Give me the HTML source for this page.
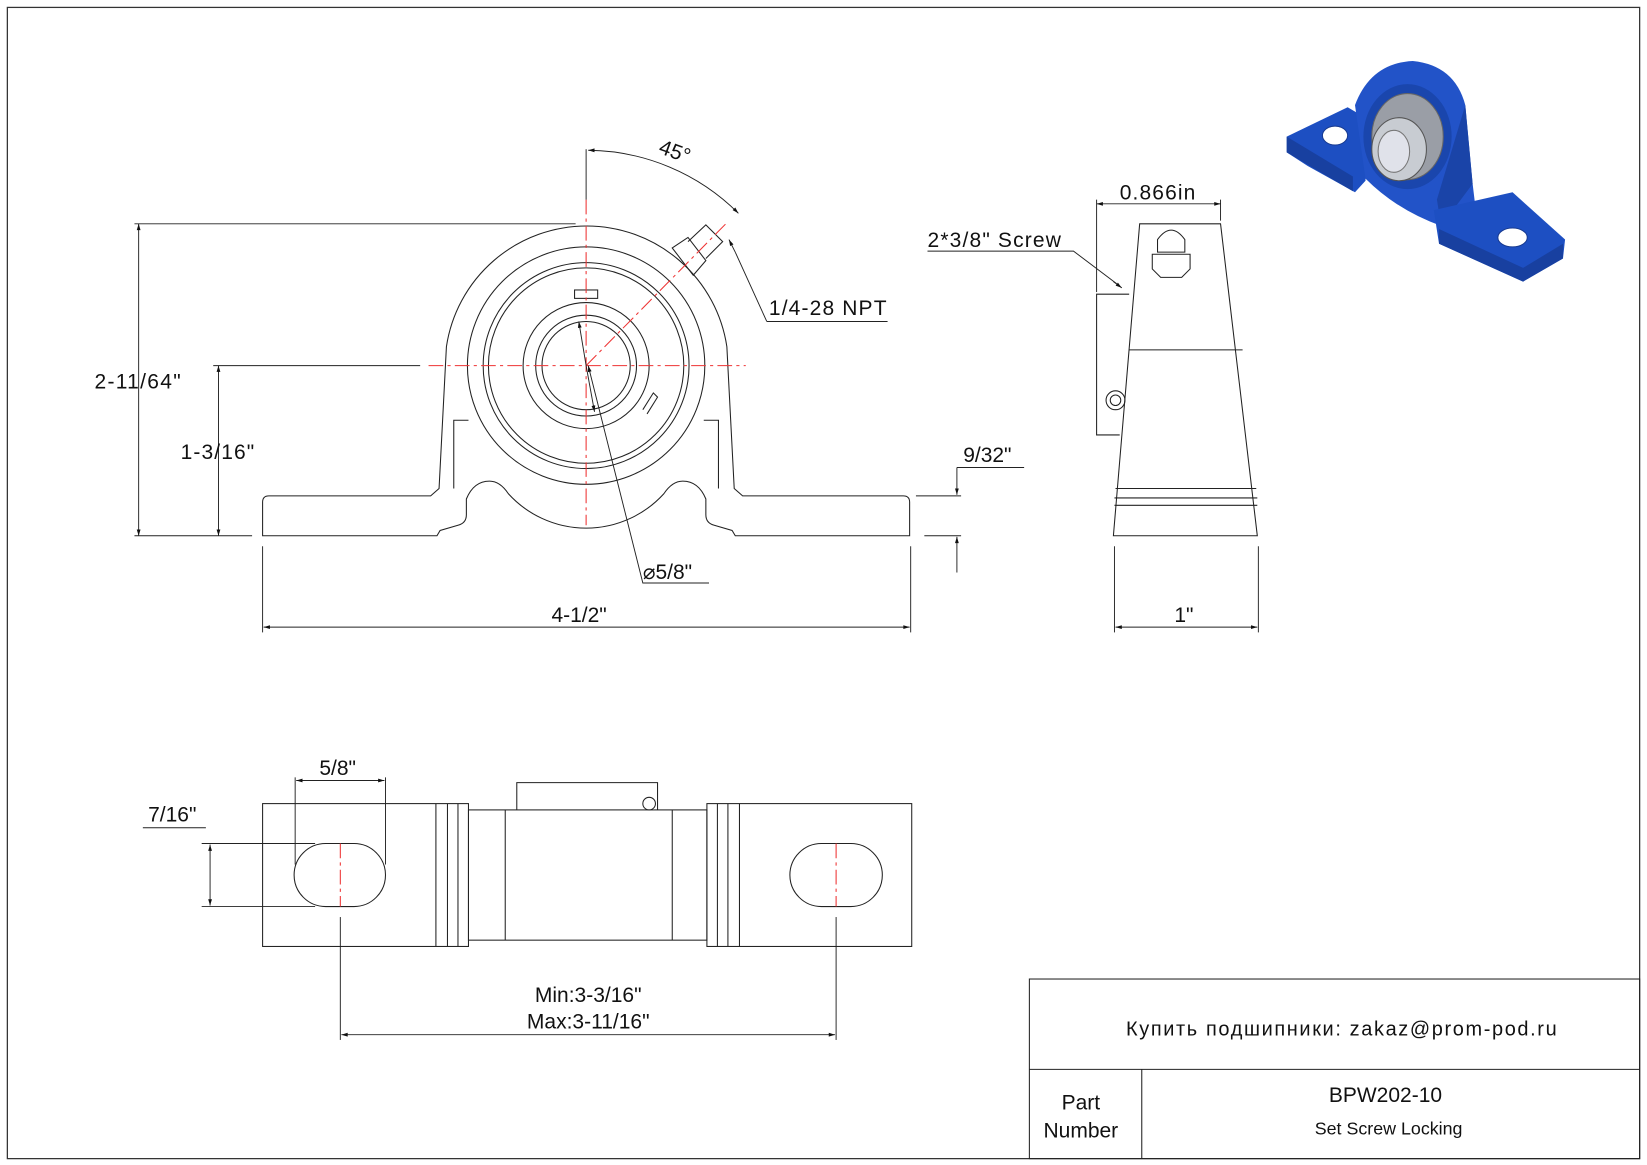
<!DOCTYPE html>
<html><head><meta charset="utf-8"><style>
html,body{margin:0;padding:0;background:#fff}
svg{display:block}
text{font-family:"Liberation Sans","Noto Sans CJK SC",sans-serif;fill:#111}
</style></head><body>
<svg width="1647" height="1165" viewBox="0 0 1568 1109" xmlns="http://www.w3.org/2000/svg">
<defs>
<marker id="a" viewBox="0 0 10 10" refX="10" refY="5" markerWidth="10" markerHeight="6" orient="auto-start-reverse" markerUnits="userSpaceOnUse"><path d="M0,2 L10,5 L0,8 z" fill="#111"/></marker>
</defs>
<rect x="7" y="7" width="1554" height="1096" fill="none" stroke="#333" stroke-width="1.2"/>
<g fill="none" stroke="#222" stroke-width="1">
<path d="M250,478 Q250,472 256,472 L410,472 L418,465 L425,330 A135,135 0 0 1 692,330 L699,465 L707,472 L860,472 Q866,472 866,478 L866,510 L700,510 L697,505 L680,500 Q672,498 672,490 L672,475 Q665,458 650,458 Q640,458 632,470 A100,100 0 0 1 484,470 Q476,458 466,458 Q451,458 444,475 L444,490 Q444,498 436,500 L419,505 L416,510 L250,510 Z"/>
<path d="M432,465 L432,400 L446,400"/><path d="M684,465 L684,400 L670,400"/>
<circle cx="558" cy="348" r="113"/><circle cx="558" cy="348" r="98"/><circle cx="558" cy="348" r="93"/>
<circle cx="558" cy="348" r="60"/><circle cx="558" cy="348" r="48"/><circle cx="558" cy="348" r="42"/>
<rect x="547" y="276" width="22" height="8"/>
<path d="M612,390 L622,374 L626,378 L616,394"/>
<path d="M640,236 L655,226 L672,248 L660,262 Z"/><path d="M655,230 L672,214 L688,230 L672,246"/>
<path d="M1085,213 L1162,213 L1197,510 L1060,510 Z"/>
<line x1="1075" y1="333" x2="1183" y2="333"/><line x1="1062" y1="465" x2="1196" y2="465"/>
<line x1="1061" y1="474" x2="1197" y2="474"/><line x1="1061" y1="481" x2="1197" y2="481"/>
<path d="M1075,280 L1044,280 L1044,414 L1066,414"/>
<circle cx="1062" cy="381" r="9"/><circle cx="1062" cy="381" r="5"/>
<path d="M1102,240 L1102,228 Q1115,210 1128,228 L1128,240 Z"/>
<path d="M1097,242 L1133,242 L1133,256 L1125,264 L1105,264 L1097,256 Z"/>
<rect x="250" y="765" width="196" height="136"/><rect x="673" y="765" width="195" height="136"/>
<line x1="415" y1="765" x2="415" y2="901"/><line x1="426" y1="765" x2="426" y2="901"/><line x1="436" y1="765" x2="436" y2="901"/>
<line x1="683" y1="765" x2="683" y2="901"/><line x1="693" y1="765" x2="693" y2="901"/><line x1="704" y1="765" x2="704" y2="901"/>
<rect x="446" y="771" width="227" height="124"/><line x1="481" y1="771" x2="481" y2="895"/><line x1="640" y1="771" x2="640" y2="895"/>
<path d="M492,771 L492,745 L626,745 L626,771"/><circle cx="618" cy="765" r="6"/>
<path d="M310,803 L337,803 A30,30 0 0 1 337,863 L310,863 A30,30 0 0 1 310,803 Z"/>
<path d="M782,803 L810,803 A30,30 0 0 1 810,863 L782,863 A30,30 0 0 1 782,803 Z"/>
<rect x="980" y="932" width="581" height="171"/><line x1="980" y1="1018" x2="1561" y2="1018"/><line x1="1087" y1="1018" x2="1087" y2="1103"/>
</g>
<g stroke="#e33" stroke-width="1" stroke-dasharray="14,4,3,4" fill="none">
<line x1="558" y1="190" x2="558" y2="500"/><line x1="408" y1="348" x2="710" y2="348"/>
<line x1="558" y1="348" x2="692" y2="212"/>
<line x1="324" y1="803" x2="324" y2="863"/><line x1="796" y1="803" x2="796" y2="863"/>
</g>
<g stroke="#222" stroke-width="0.9" fill="none">
<line x1="558" y1="142" x2="558" y2="190"/>
<path d="M560,143 A205,205 0 0 1 703,203" marker-start="url(#a)" marker-end="url(#a)"/>
<line x1="128" y1="213" x2="548" y2="213"/><line x1="128" y1="510" x2="240" y2="510"/>
<line x1="132" y1="213" x2="132" y2="510" marker-start="url(#a)" marker-end="url(#a)"/>
<line x1="203" y1="348" x2="400" y2="348"/>
<line x1="208" y1="348" x2="208" y2="510" marker-start="url(#a)" marker-end="url(#a)"/>
<line x1="250" y1="520" x2="250" y2="602"/><line x1="867" y1="520" x2="867" y2="602"/>
<line x1="251" y1="597" x2="866" y2="597" marker-start="url(#a)" marker-end="url(#a)"/>
<line x1="872" y1="472" x2="915" y2="472"/><line x1="880" y1="510" x2="915" y2="510"/>
<line x1="911" y1="445" x2="911" y2="471" marker-end="url(#a)"/><line x1="911" y1="545" x2="911" y2="511" marker-end="url(#a)"/>
<line x1="911" y1="445" x2="975" y2="445"/>
<path d="M730,306 L845,306 M730,306 L700,240" /><line x1="700" y1="240" x2="694" y2="228" marker-end="url(#a)"/>
<path d="M675,555 L612,555 L562,356"/><line x1="562" y1="356" x2="560" y2="348" marker-end="url(#a)"/>
<line x1="558" y1="348" x2="551" y2="306" marker-end="url(#a)"/>
<line x1="558" y1="348" x2="566" y2="392" marker-end="url(#a)"/>
<line x1="1044" y1="190" x2="1044" y2="278"/><line x1="1162" y1="190" x2="1162" y2="210"/>
<line x1="1044" y1="194" x2="1162" y2="194" marker-start="url(#a)" marker-end="url(#a)"/>
<path d="M883,239 L1022,239 L1063,270"/><line x1="1060" y1="268" x2="1068" y2="274" marker-end="url(#a)"/>
<line x1="1061" y1="520" x2="1061" y2="602"/><line x1="1198" y1="520" x2="1198" y2="602"/>
<line x1="1062" y1="597" x2="1197" y2="597" marker-start="url(#a)" marker-end="url(#a)"/>
<line x1="281" y1="740" x2="281" y2="823"/><line x1="367" y1="740" x2="367" y2="823"/>
<line x1="282" y1="743" x2="366" y2="743" marker-start="url(#a)" marker-end="url(#a)"/>
<line x1="136" y1="788" x2="196" y2="788"/><line x1="192" y1="803" x2="300" y2="803"/><line x1="192" y1="863" x2="300" y2="863"/>
<line x1="200" y1="804" x2="200" y2="862" marker-start="url(#a)" marker-end="url(#a)"/>
<line x1="324" y1="873" x2="324" y2="990"/><line x1="796" y1="873" x2="796" y2="990"/>
<line x1="325" y1="985" x2="795" y2="985" marker-start="url(#a)" marker-end="url(#a)"/>
</g>
<g font-size="20">
<text x="627" y="150" transform="rotate(20 640 145)">45°</text>
<text x="90" y="370" textLength="82">2-11/64"</text>
<text x="172" y="437" textLength="70">1-3/16"</text>
<text x="732" y="300" textLength="112">1/4-28 NPT</text>
<text x="917" y="440">9/32"</text>
<text x="612" y="551">⌀5/8"</text>
<text x="525" y="592">4-1/2"</text>
<text x="1066" y="190" textLength="72">0.866in</text>
<text x="883" y="235" textLength="127">2*3/8" Screw</text>
<text x="1118" y="592">1"</text>
<text x="304" y="738">5/8"</text>
<text x="141" y="782">7/16"</text>
<text x="560" y="954" text-anchor="middle">Min:3-3/16"</text>
<text x="560" y="979" text-anchor="middle">Max:3-11/16"</text>
<text x="1072" y="986" font-size="19" textLength="410">Купить подшипники: zakaz@prom-pod.ru</text>
<text x="1029" y="1056" text-anchor="middle">Part</text>
<text x="1029" y="1083" text-anchor="middle">Number</text>
<text x="1319" y="1049" text-anchor="middle">BPW202-10</text>
<text x="1322" y="1080" text-anchor="middle" font-size="17">Set Screw Locking</text>
</g>
<g>
<path d="M1225,130 L1283,102 L1300,112 L1300,172 L1290,183 L1245,158 L1225,145 Z" fill="#1d4fc2"/>
<path d="M1225,130 L1225,145 L1288,182 L1288,168 Z" fill="#1840a0"/>
<ellipse cx="1271" cy="129" rx="12" ry="9" fill="#fff" stroke="#173a90"/>
<path d="M1290,100 Q1305,60 1345,58 Q1385,62 1395,100 L1402,175 L1405,200 L1372,215 Q1330,200 1300,170 Z" fill="#2253c8"/>
<path d="M1395,100 L1402,175 L1372,215 L1368,190 Z" fill="#1a44a8"/>
<path d="M1365,200 L1440,183 L1490,228 L1488,246 L1450,268 L1370,232 Z" fill="#1d4fc2"/>
<path d="M1370,218 L1450,255 L1488,232 L1488,246 L1450,268 L1370,232 Z" fill="#1840a0"/>
<ellipse cx="1440" cy="226" rx="14" ry="9" fill="#fff" stroke="#173a90"/>
<ellipse cx="1340" cy="130" rx="42" ry="50" fill="#1a46ad"/>
<ellipse cx="1340" cy="130" rx="34" ry="41" fill="#9a9ea6" stroke="#666"/>
<ellipse cx="1332" cy="142" rx="26" ry="30" fill="#c8ccd2" stroke="#555"/>
<ellipse cx="1327" cy="144" rx="15" ry="20" fill="#e0e2ea" stroke="#777"/>
</g>
</svg>
</body></html>
